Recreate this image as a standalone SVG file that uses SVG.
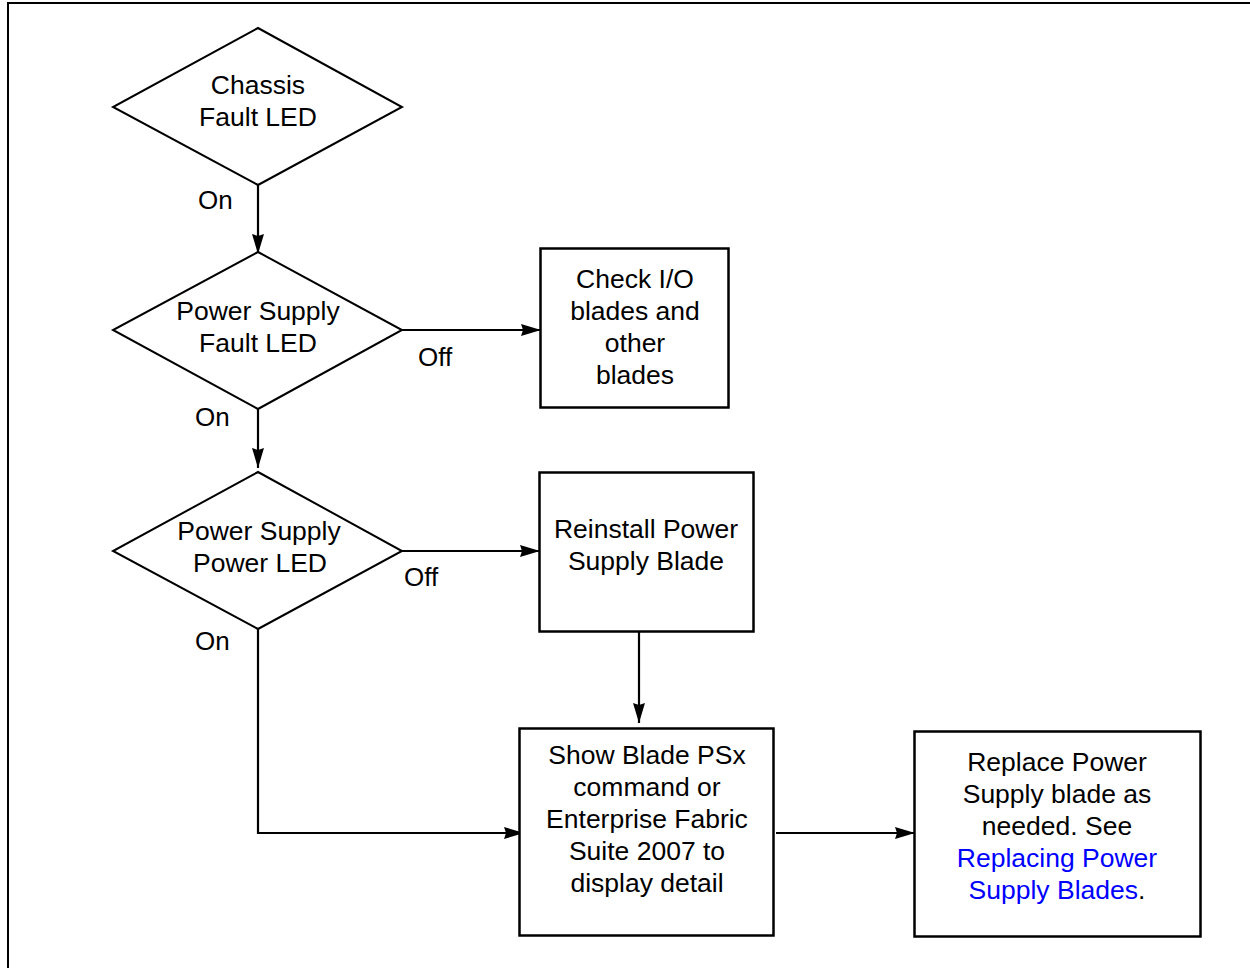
<svg xmlns="http://www.w3.org/2000/svg" width="1250" height="968" viewBox="0 0 1250 968">
<defs>
<style>
.s{fill:#fff;stroke:#000;stroke-width:2}
.b{fill:#fff;stroke:#000;stroke-width:2.5}
.c{fill:none;stroke:#000;stroke-width:2.2}
.t{font-family:"Liberation Sans",Arial,sans-serif;font-size:26.5px;fill:#000;text-anchor:middle}
.l{font-family:"Liberation Sans",Arial,sans-serif;font-size:26px;fill:#000}
.k{fill:#0000ff}
</style>
<marker id="ah" markerUnits="userSpaceOnUse" markerWidth="22" markerHeight="14" refX="20" refY="6" orient="auto">
<path d="M0,0 L20,6 L0,12 L2,6 Z" fill="#000"/>
</marker>
</defs>
<rect x="8" y="3" width="1260" height="1000" fill="#fff" stroke="#000" stroke-width="2"/>
<g id="connectors">
<path class="c" d="M258,185 V254" stroke-width="3" marker-end="url(#ah)"/>
<path class="c" d="M258,409 V468" marker-end="url(#ah)"/>
<path class="c" d="M402,330 H541" stroke-width="3" marker-end="url(#ah)"/>
<path class="c" d="M402,551 H540" marker-end="url(#ah)"/>
<path class="c" d="M639,632 V723" stroke-width="3" marker-end="url(#ah)"/>
<path class="c" d="M258,629 V833 H524" marker-end="url(#ah)"/>
<path class="c" d="M776,833 H915" marker-end="url(#ah)"/>
</g>
<g id="chassis">
<polygon class="s" points="258,28 402,107 258,185 113,107"/>
<text class="t" x="258" y="94">Chassis</text>
<text class="t" x="258" y="126">Fault LED</text>
</g>
<g id="psfault">
<polygon class="s" points="258,252 402,330 258,409 113,330"/>
<text class="t" x="258" y="320">Power Supply</text>
<text class="t" x="258" y="352">Fault LED</text>
</g>
<g id="pspower">
<polygon class="s" points="258,472 402,551 258,629 113,551"/>
<text class="t" x="259" y="540">Power Supply</text>
<text class="t" x="260" y="572">Power LED</text>
</g>
<g id="labels">
<text class="l" x="198" y="209">On</text>
<text class="l" x="418" y="366">Off</text>
<text class="l" x="195" y="426">On</text>
<text class="l" x="404" y="586">Off</text>
<text class="l" x="195" y="650">On</text>
</g>
<g id="checkio">
<rect class="b" x="540.500" y="248.500" width="188" height="159"/>
<text class="t" x="635" y="288">Check I/O</text>
<text class="t" x="635" y="320">blades and</text>
<text class="t" x="635" y="352">other</text>
<text class="t" x="635" y="384">blades</text>
</g>
<g id="reinstall">
<rect class="b" x="539.500" y="472.500" width="214" height="159"/>
<text class="t" x="646" y="538">Reinstall Power</text>
<text class="t" x="646" y="570">Supply Blade</text>
</g>
<g id="show">
<rect class="b" x="519.500" y="728.500" width="254" height="207"/>
<text class="t" x="647" y="764">Show Blade PSx</text>
<text class="t" x="647" y="796">command or</text>
<text class="t" x="647" y="828">Enterprise Fabric</text>
<text class="t" x="647" y="860">Suite 2007 to</text>
<text class="t" x="647" y="892">display detail</text>
</g>
<g id="replace">
<rect class="b" x="914.500" y="731.500" width="286" height="205"/>
<text class="t" x="1057" y="771">Replace Power</text>
<text class="t" x="1057" y="803">Supply blade as</text>
<text class="t" x="1057" y="835">needed. See</text>
<text class="t k" x="1057" y="867">Replacing Power</text>
<text class="t" x="1057" y="899"><tspan class="k">Supply Blades</tspan>.</text>
</g>
</svg>
